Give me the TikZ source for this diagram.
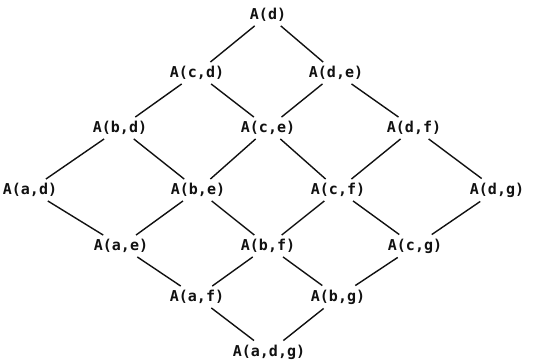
\documentclass[tikz,border=0pt]{standalone}
\usepackage{fontspec}
\setmonofont{DejaVu Sans Mono}
\usetikzlibrary{positioning}
\definecolor{ink}{HTML}{111111}
\newcommand{\PicW}{533}
\newcommand{\PicH}{363}

\begin{document}
\begin{tikzpicture}[
    x=1pt, y=-1pt,
    ink,
    term/.style={inner sep=4pt, font=\ttfamily\fontsize{15}{15}\selectfont\bfseries, text=ink},
    link/.style={draw=ink, line width=1.4pt},
  ]

\useasboundingbox (0,0) rectangle (\PicW,\PicH);

% --- The terms, row by row ----------------------------------------------------
\foreach \n/\x/\y/\t in {d/268/15/{A(d)},
                         cd/197/73/{A(c,d)}, de/336/73/{A(d,e)},
                         bd/120/128/{A(b,d)}, ce/268/128/{A(c,e)}, df/414/128/{A(d,f)},
                         ad/30/190/{A(a,d)}, be/198/190/{A(b,e)}, cf/338/190/{A(c,f)}, dg/497/190/{A(d,g)},
                         ae/121/246/{A(a,e)}, bf/268/246/{A(b,f)}, cg/415/246/{A(c,g)},
                         af/197/297/{A(a,f)}, bg/338/297/{A(b,g)},
                         adg/269/352/{A(a,d,g)}} {
  \node[term] (\n) at (\x,\y) {\t};
}

% --- The links between them -----------------------------------------------------
\foreach \a/\b in {d/cd, d/de,
                   cd/bd, cd/ce, de/ce, de/df,
                   bd/ad, bd/be, ce/be, ce/cf, df/cf, df/dg,
                   ad/ae, be/ae, be/bf, cf/bf, cf/cg, dg/cg,
                   ae/af, bf/af, bf/bg, cg/bg,
                   af/adg, bg/adg} {
  \draw[link] (\a) -- (\b);
}

\end{tikzpicture}
\end{document}
